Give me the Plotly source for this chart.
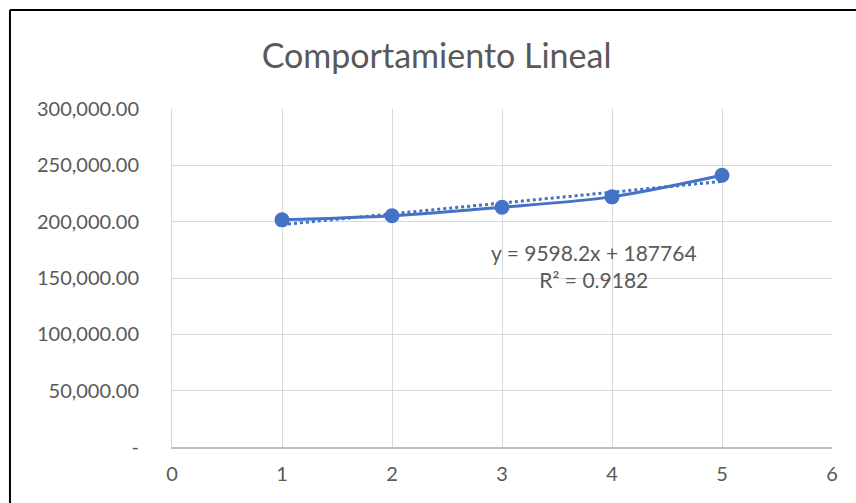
import plotly.graph_objects as go

# Observations
periods = [1, 2, 3, 4, 5]
amounts = [201602, 205215, 212769, 222012, 241195]

# Linear trendline coefficients and fit quality
slope = 9598.2
intercept = 187764
r_squared = 0.9182

y_ticks = [0, 50000, 100000, 150000, 200000, 250000, 300000]
y_tick_text = ["-", "50,000.00", "100,000.00", "150,000.00", "200,000.00", "250,000.00", "300,000.00"]
x_ticks = [0, 1, 2, 3, 4, 5, 6]

BLUE = "#4472C4"
GRID = "#D9D9D9"
TEXT = "#595959"
FONT = "Lato, 'Open Sans', sans-serif"

trend_x = [periods[0], periods[-1]]
trend_y = [intercept + slope * x for x in trend_x]

fig = go.Figure()

fig.add_trace(go.Scatter(
    x=trend_x, y=trend_y, mode="lines",
    line=dict(color=BLUE, width=3, dash="dot"),
    hoverinfo="skip", showlegend=False,
))

fig.add_trace(go.Scatter(
    x=periods, y=amounts, mode="lines+markers",
    line=dict(color=BLUE, width=3, shape="spline", smoothing=0.8),
    marker=dict(color=BLUE, size=15),
    showlegend=False,
))

fig.add_annotation(
    x=3.836, y=160600, xref="x", yref="y",
    text=f"y = {slope}x + {intercept}<br>R² = {r_squared}",
    showarrow=False, align="center",
    font=dict(family=FONT, size=21, color=TEXT),
)

# Outer chart frame (left and top edges)
fig.add_shape(type="line", xref="paper", yref="paper",
              x0=-0.2455, x1=-0.2455, y0=1.2929, y1=-0.3,
              line=dict(color="black", width=2))
fig.add_shape(type="line", xref="paper", yref="paper",
              x0=-0.2455, x1=1.2, y0=1.2929, y1=1.2929,
              line=dict(color="black", width=2))

fig.update_layout(
    width=856, height=503,
    margin=dict(l=172, r=24, t=109, b=56),
    paper_bgcolor="white", plot_bgcolor="white",
    title=dict(text="Comportamiento Lineal", x=0.51, xanchor="center",
               y=0.888, yanchor="middle",
               font=dict(family=FONT, size=34, color=TEXT)),
    font=dict(family=FONT, color=TEXT),
)

fig.update_xaxes(
    range=[0, 6], tickvals=x_ticks, ticktext=[str(v) for v in x_ticks],
    showgrid=True, gridcolor=GRID, gridwidth=1,
    showline=True, linecolor="#BFBFBF", linewidth=1.5, mirror=False,
    zeroline=False, ticks="", ticklabelstandoff=8,
    tickfont=dict(family=FONT, size=20, color=TEXT),
)
fig.update_yaxes(
    range=[0, 300000], tickvals=y_ticks, ticktext=y_tick_text,
    showgrid=True, gridcolor=GRID, gridwidth=1,
    showline=True, linecolor=GRID, linewidth=1,
    zeroline=False, ticks="", ticklabelstandoff=28,
    tickfont=dict(family=FONT, size=20, color=TEXT),
)

fig.write_html("out.html")
